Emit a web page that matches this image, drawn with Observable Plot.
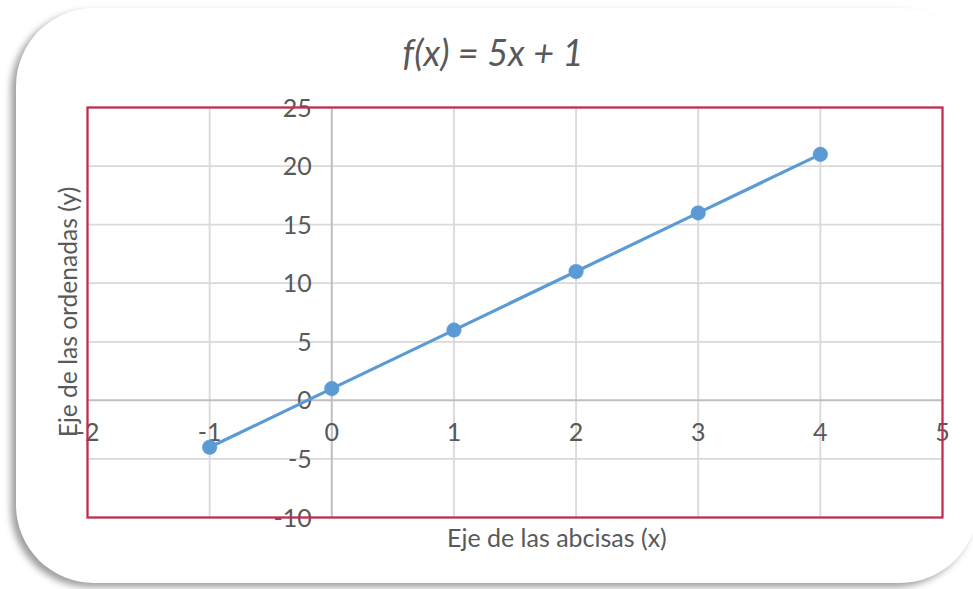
<!DOCTYPE html>
<html>
<head>
<meta charset="utf-8">
<script src="https://cdn.jsdelivr.net/npm/d3@7"></script>
<script src="https://cdn.jsdelivr.net/npm/@observablehq/plot@0.6"></script>
<style>
  html, body { margin: 0; padding: 0; background: #ffffff; }
  #page { position: relative; width: 973px; height: 589px; overflow: hidden; font-family: Lato, "Open Sans", sans-serif; color: #595959; }
  #card { position: absolute; left: 16px; top: 8px; width: 962px; height: 575px; border-radius: 78px; background: #fff;
          box-shadow: -5px 4px 7px rgba(0,0,0,0.38); }
  #title { position: absolute; left: 0; width: 986px; top: 32px; text-align: center; font-style: italic; font-size: 36px; line-height: 40px; color: #595959; }
  #chart { position: absolute; left: 0; top: 0; }
  #xlabel { position: absolute; left: 447px; top: 522px; font-size: 25px; line-height: 30px; white-space: nowrap; }
  #ylabel { position: absolute; left: 68px; top: 312px; font-size: 24.6px; line-height: 30px; white-space: nowrap; transform: translate(-50%, -50%) rotate(-90deg); }
</style>
</head>
<body>
<div id="page">
  <div id="card"></div>
  <div id="title">f(x) = 5x + 1</div>
  <div id="chart"></div>
  <div id="xlabel">Eje de las abcisas (x)</div>
  <div id="ylabel">Eje de las ordenadas (y)</div>
</div>
<script>
// f(x) = 5x + 1 evaluated at integer abscissas
const xs = [-1, 0, 1, 2, 3, 4];
const ys = [-4, 1, 6, 11, 16, 21];

// tick values for both axes
const xTicks = [-2, -1, 0, 1, 2, 3, 4, 5];
const yTicks = [-10, -5, 0, 5, 10, 15, 20, 25];

const points = xs.map((x, i) => ({x, y: ys[i]}));

const ink = "#595959";
const blue = "#5b9bd5";

const chart = Plot.plot({
  width: 973,
  height: 589,
  marginLeft: 87,
  marginRight: 31,
  marginTop: 107,
  marginBottom: 72,
  style: {background: "transparent", fontFamily: "Lato, Open Sans, sans-serif"},
  x: {domain: [-2, 5], axis: null},
  y: {domain: [-10, 25], axis: null},
  marks: [
    // grid
    Plot.ruleX(xTicks.filter(d => d !== 0), {stroke: "#d9d9d9", strokeWidth: 1.8, strokeOpacity: 1}),
    Plot.ruleY(yTicks.filter(d => d !== 0), {stroke: "#d9d9d9", strokeWidth: 1.8, strokeOpacity: 1}),
    // axes crossing at the origin
    Plot.ruleX([0], {stroke: "#bfbfbf", strokeWidth: 2}),
    Plot.ruleY([0], {stroke: "#bfbfbf", strokeWidth: 2}),
    // tick labels along the axes
    Plot.text(yTicks, {x: 0, y: d => d, text: d => String(d), textAnchor: "end", dx: -20, dy: 1, fill: ink, fontSize: 25}),
    Plot.text(xTicks, {x: d => d, y: 0, text: d => String(d), textAnchor: "middle", dy: 33, fill: ink, fontSize: 25}),
    // series
    Plot.line(points, {x: "x", y: "y", stroke: blue, strokeWidth: 3.2}),
    Plot.dot(points, {x: "x", y: "y", r: 7.3, fill: blue, stroke: blue, strokeWidth: 0.5}),
    // plot area border
    Plot.frame({stroke: "#c8284f", strokeWidth: 2.2})
  ]
});

document.getElementById("chart").appendChild(chart);
</script>
</body>
</html>
